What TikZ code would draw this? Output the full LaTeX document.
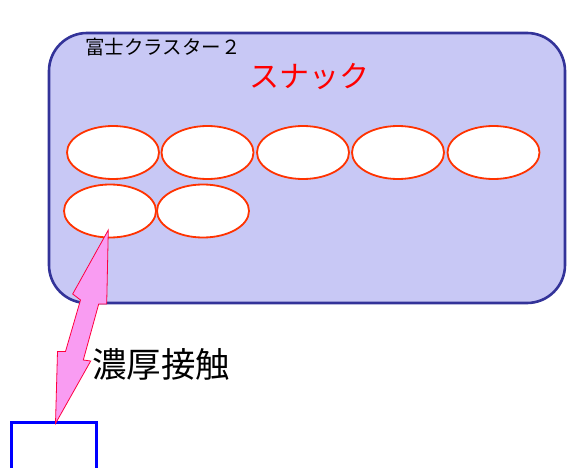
\documentclass[tikz,border=0pt]{standalone}
\usepackage{fontspec}
\newfontfamily\jp{Noto Sans CJK JP}
\usetikzlibrary{shapes.geometric,calc}
\definecolor{clfill}{RGB}{200,200,245}
\definecolor{clline}{RGB}{51,51,153}
\definecolor{ellline}{RGB}{255,51,0}
\definecolor{arrfill}{RGB}{249,156,242}
\definecolor{arrline}{RGB}{255,0,64}
\begin{document}
\begin{tikzpicture}[x=1pt,y=-1pt,
  cluster/.style={draw=clline,fill=clfill,line width=2.6pt,rounded corners=38pt,
    minimum width=516pt,minimum height=270pt,inner sep=0pt},
  snack/.style={ellipse,draw=ellline,fill=white,line width=1.8pt,
    minimum width=92pt,minimum height=53pt,inner sep=0pt},
  person/.style={draw=blue,line width=3pt,minimum width=85pt,minimum height=100pt,inner sep=0pt},
  contact/.style={draw=arrline,fill=arrfill,line width=0.8pt,line join=miter},
  title/.style={font=\jp\fontsize{19.5}{19.5}\selectfont,text=black,inner sep=0pt},
  redlabel/.style={font=\jp\fontsize{30}{30}\selectfont,text=red,inner sep=0pt},
  biglabel/.style={font=\jp\fontsize{34.5}{34.5}\selectfont,text=black,inner sep=0pt}
]
\useasboundingbox (0,0) rectangle (567,468);
\node[cluster] (cl) at (307,168) {};
\node[title,anchor=west] (t) at (85,47) {富士クラスター２};
\node[redlabel] (s) at (309,77) {スナック};
\node[snack] (e1) at (113,152.5) {};
\node[snack] (e2) at (207.5,152.5) {};
\node[snack] (e3) at (303,152.5) {};
\node[snack] (e4) at (398,152.5) {};
\node[snack] (e5) at (493.5,152.5) {};
\node[snack] (e6) at (110,211) {};
\node[snack] (e7) at (203,211) {};
\node[person,anchor=north] (box) at (53.5,421) {};
\coordinate (tipa) at ($(e6.center)+(-1.7,19)$);
\coordinate (tipb) at ($(box.north)+(2,2.5)$);
\draw[contact] (tipa) -- (106.7,304) -- (98.7,304) -- (83.3,360) -- (90.7,361)
  -- (tipb) -- (57.5,351.5) -- (65.5,351.5) -- (80.5,300) -- (72.7,294) -- cycle;
\node[biglabel] (l) at (161,364) {濃厚接触};
\end{tikzpicture}
\end{document}
